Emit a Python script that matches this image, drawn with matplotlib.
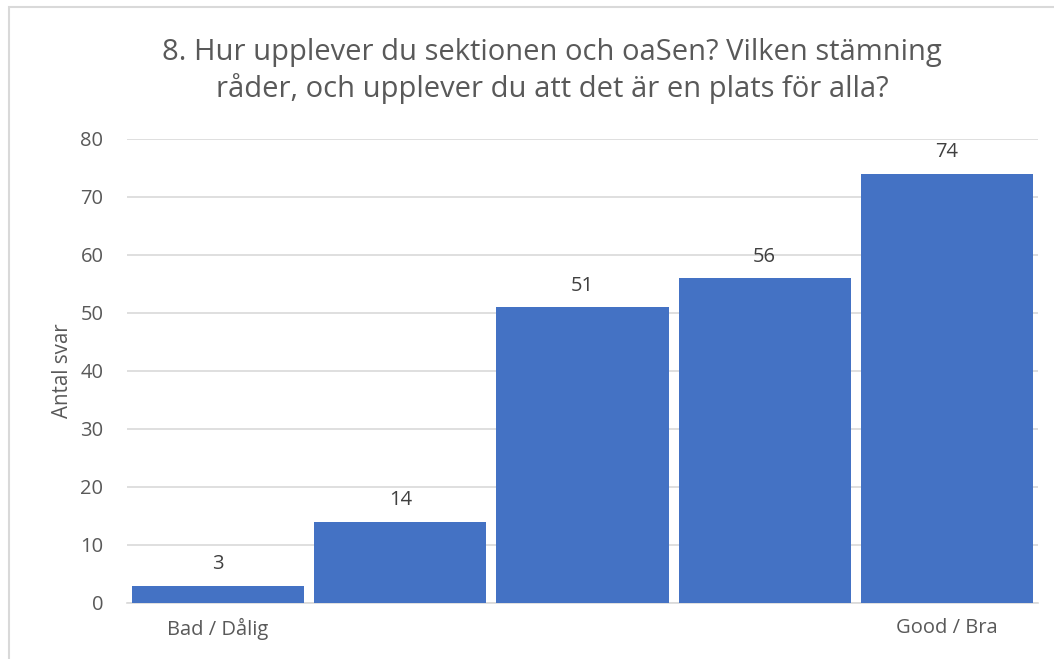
import matplotlib.pyplot as plt
from matplotlib.patches import Rectangle

# data
categories = ['Bad / Dålig', '', '', '', 'Good / Bra']
values = [3, 14, 51, 56, 74]

title = '8. Hur upplever du sektionen och oaSen? Vilken stämning\nråder, och upplever du att det är en plats för alla?'
bar_color = '#4472C4'
grid_color = '#D9D9D9'
text_color = '#595959'

plt.rcParams['font.family'] = ['Open Sans', 'DejaVu Sans']

fig = plt.figure(figsize=(10.54, 6.59), dpi=100)
ax = fig.add_axes([127/1054, 1-603/659, (1038-127)/1054, (603-139)/659])

x = list(range(len(values)))
bars = ax.bar(x, values, width=0.945, color=bar_color, zorder=3)
for xi, v in zip(x, values):
    ax.text(xi, v + 2.0, str(v), ha='center', va='bottom', fontsize=14.5, color='#404040')

ax.set_xlim(-0.5, len(values) - 0.5)
ax.set_ylim(0, 80)
ax.set_yticks(range(0, 81, 10))
ax.set_xticks(x)
ax.set_xticklabels(categories)
ax.tick_params(axis='both', length=0, labelsize=14.5, labelcolor=text_color)
ax.tick_params(axis='y', pad=17)
ax.tick_params(axis='x', pad=11)
ax.yaxis.grid(True, color=grid_color, linewidth=1.2, zorder=0)
for s in ['top', 'right', 'left']:
    ax.spines[s].set_visible(False)
ax.spines['bottom'].set_color(grid_color)
ax.spines['bottom'].set_linewidth(1.2)

ax.set_ylabel('Antal svar', fontsize=14.8, color=text_color)
ax.yaxis.set_label_coords((73-127)/911, 0.5)
fig.text(552/1054, 1-71/659, title, ha='center', va='center', fontsize=21,
         color=text_color, linespacing=1.28)

# chart border
fig.patches.append(Rectangle((9/1054, -0.1), 1.1, 1-7/659+0.1, transform=fig.transFigure,
                             fill=False, edgecolor=grid_color, linewidth=1.5))

fig.savefig('out.png', dpi=100)
